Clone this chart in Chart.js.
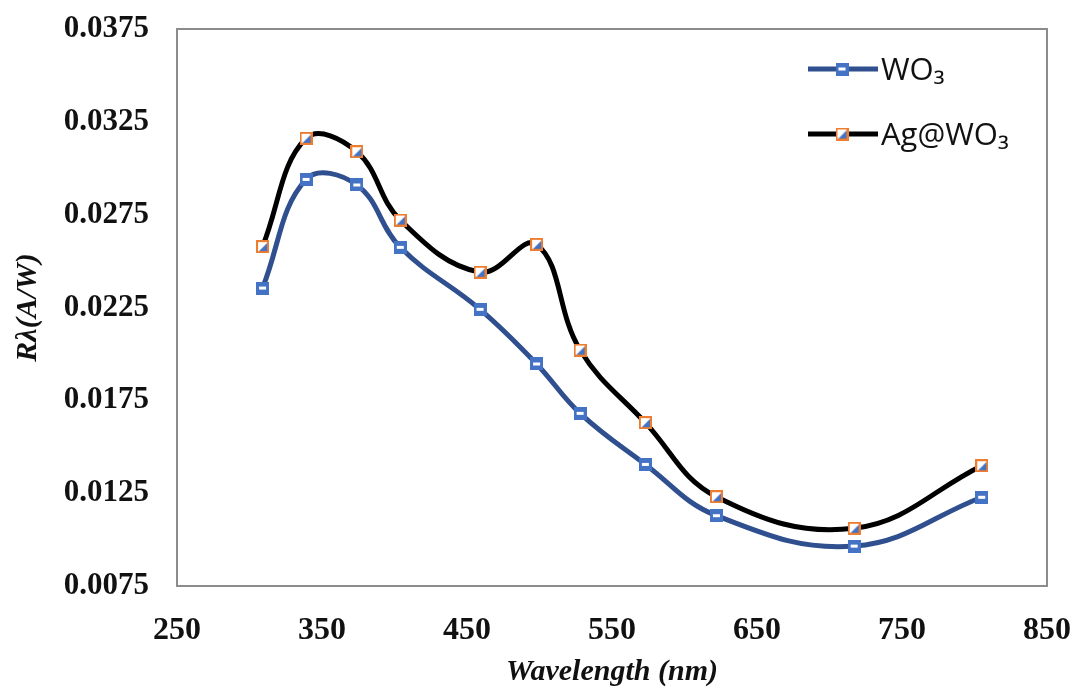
<!DOCTYPE html>
<html>
<head>
<meta charset="utf-8">
<script src="https://cdn.jsdelivr.net/npm/chart.js@4"></script>
<style>
  html, body { margin: 0; padding: 0; background: #fff; }
  #chart { display: block; }
</style>
</head>
<body>
<canvas id="chart" width="1073" height="692"></canvas>
<script>
// values
const wavelengths = [309, 339, 374, 404, 459, 498, 528, 573, 622, 717, 805];
const wo3Values = [0.02355, 0.0294, 0.0291, 0.02574, 0.0224, 0.01946, 0.0168, 0.01405, 0.01129, 0.00965, 0.01228];
const agWo3Values = [0.02578, 0.03161, 0.03089, 0.02721, 0.0244, 0.0259, 0.02021, 0.0163, 0.01231, 0.01061, 0.01398];
const seriesLabels = ["WO₃", "Ag@WO₃"];
const yTicks = [0.0075, 0.0125, 0.0175, 0.0225, 0.0275, 0.0325, 0.0375];

const BLUE = "#4472C4";
const ORANGE = "#ED7D31";

const makeMarker = kind => {
  const c = document.createElement("canvas");
  c.width = 13;
  c.height = 13;
  const g = c.getContext("2d");
  if (kind === "wo3") {
    g.fillStyle = BLUE;
    g.fillRect(0, 0, 13, 13);
    g.fillStyle = "#fff";
    g.fillRect(3, 5, 7, 3);
  } else {
    g.fillStyle = "#fff";
    g.fillRect(0, 0, 13, 13);
    g.fillStyle = BLUE;
    g.beginPath();
    g.moveTo(11, 3);
    g.lineTo(11, 11);
    g.lineTo(3, 11);
    g.closePath();
    g.fill();
    g.strokeStyle = ORANGE;
    g.lineWidth = 2;
    g.strokeRect(1, 1, 11, 11);
  }
  return c;
};

const toPoints = values => values.map((y, i) => ({ x: wavelengths[i], y }));

const boxPlugin = {
  id: "box",
  beforeDatasetsDraw(chart) {
    const { ctx, chartArea: a } = chart;
    ctx.save();
    ctx.strokeStyle = "#8c8c8c";
    ctx.lineWidth = 2;
    ctx.strokeRect(a.left, a.top, a.right - a.left, a.bottom - a.top);
    ctx.restore();
  }
};

const legendPlugin = {
  id: "insideLegend",
  afterDatasetsDraw(chart) {
    const { ctx } = chart;
    const rows = [69, 134];
    chart.data.datasets.forEach((ds, i) => {
      const y = rows[i];
      ctx.save();
      ctx.strokeStyle = ds.borderColor;
      ctx.lineWidth = 5;
      ctx.beginPath();
      ctx.moveTo(808, y);
      ctx.lineTo(878, y);
      ctx.stroke();
      ctx.drawImage(ds.pointStyle, 842 - 6.5, y - 6.5);
      ctx.fillStyle = "#111";
      ctx.font = "31px 'Open Sans', 'Noto Sans', sans-serif";
      ctx.textBaseline = "middle";
      ctx.fillText(ds.label, 881, y + 2);
      ctx.restore();
    });
  }
};

new Chart(document.getElementById("chart"), {
  type: "line",
  data: {
    datasets: [
      {
        label: seriesLabels[0],
        data: toPoints(wo3Values),
        borderColor: "#2F4F8F",
        borderWidth: 5,
        tension: 0.4,
        pointStyle: makeMarker("wo3"),
        pointRadius: 6
      },
      {
        label: seriesLabels[1],
        data: toPoints(agWo3Values),
        borderColor: "#000",
        borderWidth: 5,
        tension: 0.4,
        pointStyle: makeMarker("ag"),
        pointRadius: 6
      }
    ]
  },
  options: {
    responsive: false,
    animation: false,
    devicePixelRatio: 1,
    layout: { padding: { top: 29, right: 26, left: 0, bottom: 0 } },
    plugins: {
      legend: { display: false },
      tooltip: { enabled: false }
    },
    scales: {
      x: {
        type: "linear",
        min: 250,
        max: 850,
        grid: { display: false, drawTicks: false },
        border: { display: false },
        ticks: {
          stepSize: 100,
          padding: 26,
          color: "#111",
          font: { family: "'Liberation Serif', 'Times New Roman', serif", size: 32, weight: "bold" }
        },
        title: {
          display: true,
          text: "Wavelength (nm)",
          color: "#111",
          padding: { top: 0, bottom: 2 },
          font: { family: "'Liberation Serif', 'Times New Roman', serif", size: 30, weight: "bold", style: "italic" }
        },
        afterFit: scale => {
          scale.height = 106;
          scale.paddingLeft = 0;
          scale.paddingRight = 0;
        }
      },
      y: {
        min: 0.0075,
        max: 0.0375,
        grid: { display: false, drawTicks: false },
        border: { display: false },
        afterBuildTicks: scale => { scale.ticks = yTicks.map(v => ({ value: v })); },
        ticks: {
          padding: 28,
          color: "#111",
          callback: v => v.toFixed(4),
          font: { family: "'Liberation Serif', 'Times New Roman', serif", size: 31, weight: "bold" }
        },
        title: {
          display: true,
          text: "Rλ(A/W)",
          color: "#111",
          padding: { top: 10, bottom: 0 },
          font: { family: "'Liberation Serif', 'Times New Roman', serif", size: 30, weight: "bold", style: "italic" }
        },
        afterFit: scale => {
          scale.width = 177;
          scale.paddingTop = 0;
          scale.paddingBottom = 0;
        }
      }
    }
  },
  plugins: [boxPlugin, legendPlugin]
});
</script>
</body>
</html>
